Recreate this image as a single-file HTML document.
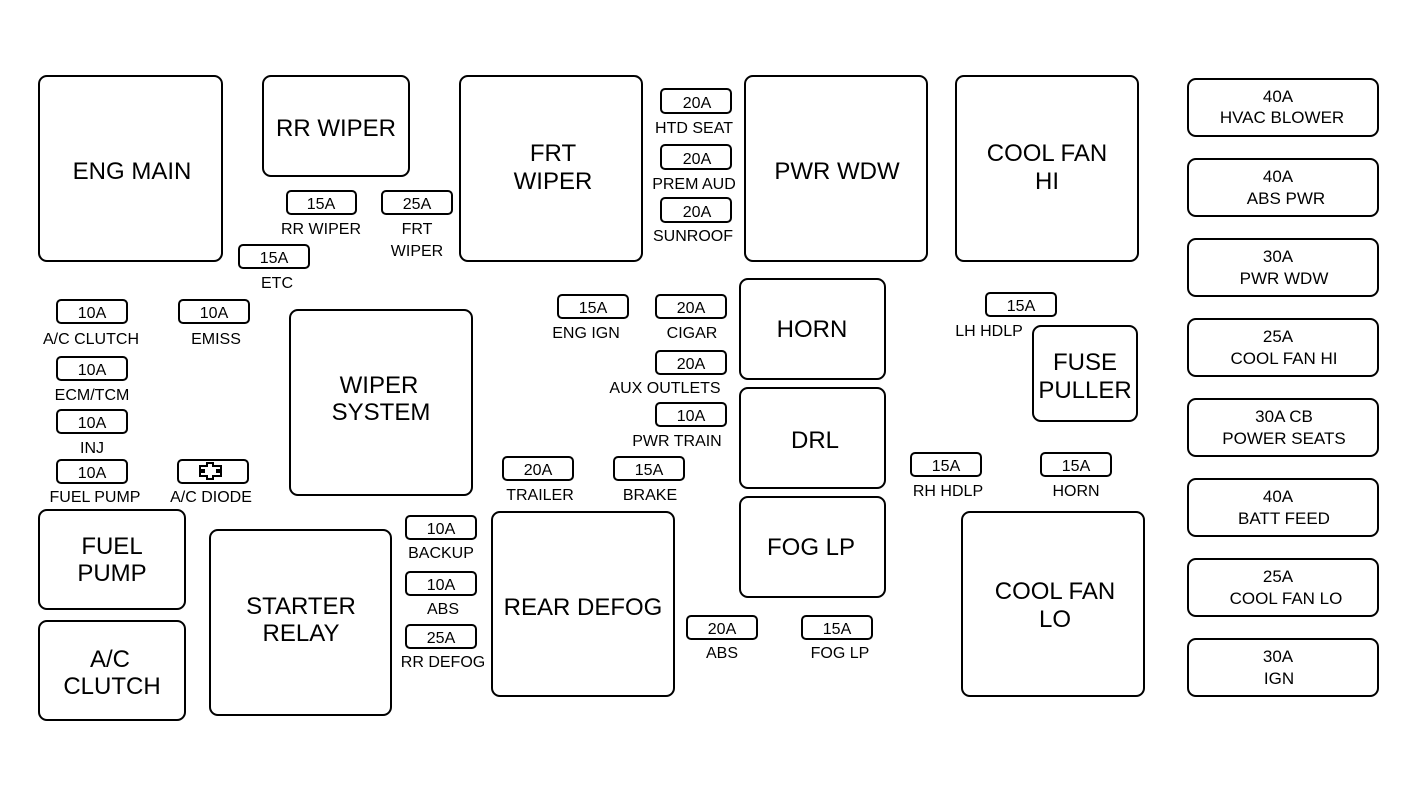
<!DOCTYPE html>
<html><head><meta charset="utf-8"><style>
html,body{margin:0;padding:0;background:#fff;}
svg text{font-family:"Liberation Sans",Arial,sans-serif;fill:#000;text-anchor:middle;}
.b{fill:none;stroke:#000;stroke-width:2;}
.t{font-size:24px;}
.f{font-size:16px;}
.r{font-size:17px;}
</style></head><body>
<svg width="1417" height="797" viewBox="0 0 1417 797" xmlns="http://www.w3.org/2000/svg">
<!-- big boxes -->
<rect class="b" x="39" y="76" width="183" height="185" rx="8"/><text class="t" x="132" y="179">ENG MAIN</text>
<rect class="b" x="263" y="76" width="146" height="100" rx="8"/><text class="t" x="336" y="136">RR WIPER</text>
<rect class="b" x="460" y="76" width="182" height="185" rx="8"/><text class="t" x="553" y="161">FRT</text><text class="t" x="553" y="189">WIPER</text>
<rect class="b" x="745" y="76" width="182" height="185" rx="8"/><text class="t" x="837" y="179">PWR WDW</text>
<rect class="b" x="956" y="76" width="182" height="185" rx="8"/><text class="t" x="1047" y="161">COOL FAN</text><text class="t" x="1047" y="189">HI</text>
<rect class="b" x="290" y="310" width="182" height="185" rx="8"/><text class="t" x="379" y="393">WIPER</text><text class="t" x="381" y="420">SYSTEM</text>
<rect class="b" x="740" y="279" width="145" height="100" rx="8"/><text class="t" x="812" y="337">HORN</text>
<rect class="b" x="1033" y="326" width="104" height="95" rx="8"/><text class="t" x="1085" y="370">FUSE</text><text class="t" x="1085" y="398">PULLER</text>
<rect class="b" x="740" y="388" width="145" height="100" rx="8"/><text class="t" x="815" y="448">DRL</text>
<rect class="b" x="740" y="497" width="145" height="100" rx="8"/><text class="t" x="811" y="555">FOG LP</text>
<rect class="b" x="39" y="510" width="146" height="99" rx="8"/><text class="t" x="112" y="554">FUEL</text><text class="t" x="112" y="581">PUMP</text>
<rect class="b" x="39" y="621" width="146" height="99" rx="8"/><text class="t" x="110" y="667">A/C</text><text class="t" x="112" y="694">CLUTCH</text>
<rect class="b" x="210" y="530" width="181" height="185" rx="8"/><text class="t" x="301" y="614">STARTER</text><text class="t" x="301" y="641">RELAY</text>
<rect class="b" x="492" y="512" width="182" height="184" rx="8"/><text class="t" x="583" y="615">REAR DEFOG</text>
<rect class="b" x="962" y="512" width="182" height="184" rx="8"/><text class="t" x="1055" y="599">COOL FAN</text><text class="t" x="1055" y="627">LO</text>
<!-- right column -->
<g class="r">
<rect class="b" x="1188" y="79" width="190" height="57" rx="8"/><text class="r" x="1278" y="102">40A</text><text class="r" x="1282" y="123">HVAC BLOWER</text>
<rect class="b" x="1188" y="159" width="190" height="57" rx="8"/><text class="r" x="1278" y="182">40A</text><text class="r" x="1286" y="204">ABS PWR</text>
<rect class="b" x="1188" y="239" width="190" height="57" rx="8"/><text class="r" x="1278" y="262">30A</text><text class="r" x="1284" y="284">PWR WDW</text>
<rect class="b" x="1188" y="319" width="190" height="57" rx="8"/><text class="r" x="1278" y="342">25A</text><text class="r" x="1284" y="364">COOL FAN HI</text>
<rect class="b" x="1188" y="399" width="190" height="57" rx="8"/><text class="r" x="1284" y="422">30A CB</text><text class="r" x="1284" y="444">POWER SEATS</text>
<rect class="b" x="1188" y="479" width="190" height="57" rx="8"/><text class="r" x="1278" y="502">40A</text><text class="r" x="1284" y="524">BATT FEED</text>
<rect class="b" x="1188" y="559" width="190" height="57" rx="8"/><text class="r" x="1278" y="582">25A</text><text class="r" x="1286" y="604">COOL FAN LO</text>
<rect class="b" x="1188" y="639" width="190" height="57" rx="8"/><text class="r" x="1278" y="662">30A</text><text class="r" x="1279" y="684">IGN</text>
</g>
<!-- small fuses -->
<g>
<rect class="b" x="57" y="300" width="70" height="23" rx="4"/><text class="f" x="92" y="318">10A</text><text class="f" x="91" y="344">A/C CLUTCH</text>
<rect class="b" x="179" y="300" width="70" height="23" rx="4"/><text class="f" x="214" y="318">10A</text><text class="f" x="216" y="344">EMISS</text>
<rect class="b" x="57" y="357" width="70" height="23" rx="4"/><text class="f" x="92" y="375">10A</text><text class="f" x="92" y="400">ECM/TCM</text>
<rect class="b" x="57" y="410" width="70" height="23" rx="4"/><text class="f" x="92" y="428">10A</text><text class="f" x="92" y="453">INJ</text>
<rect class="b" x="57" y="460" width="70" height="23" rx="4"/><text class="f" x="92" y="478">10A</text><text class="f" x="95" y="502">FUEL PUMP</text>
<rect class="b" x="178" y="460" width="70" height="23" rx="4"/><text class="f" x="211" y="502">A/C DIODE</text>
<path d="M200 466 h7 v-3 h6 v3 h8 v4 h-4 v2 h4 v4 h-8 v3 h-6 v-3 h-7 v-4 h4 v-2 h-4 z" fill="none" stroke="#000" stroke-width="2"/>
<rect class="b" x="287" y="191" width="69" height="23" rx="4"/><text class="f" x="321" y="209">15A</text><text class="f" x="321" y="234">RR WIPER</text>
<rect class="b" x="382" y="191" width="70" height="23" rx="4"/><text class="f" x="417" y="209">25A</text><text class="f" x="417" y="234">FRT</text><text class="f" x="417" y="256">WIPER</text>
<rect class="b" x="239" y="245" width="70" height="23" rx="4"/><text class="f" x="274" y="263">15A</text><text class="f" x="277" y="288">ETC</text>
<rect class="b" x="661" y="89" width="70" height="24" rx="4"/><text class="f" x="697" y="108">20A</text><text class="f" x="694" y="133">HTD SEAT</text>
<rect class="b" x="661" y="145" width="70" height="24" rx="4"/><text class="f" x="697" y="164">20A</text><text class="f" x="694" y="189">PREM AUD</text>
<rect class="b" x="661" y="198" width="70" height="24" rx="4"/><text class="f" x="697" y="217">20A</text><text class="f" x="693" y="241">SUNROOF</text>
<rect class="b" x="558" y="295" width="70" height="23" rx="4"/><text class="f" x="593" y="313">15A</text><text class="f" x="586" y="338">ENG IGN</text>
<rect class="b" x="656" y="295" width="70" height="23" rx="4"/><text class="f" x="691" y="313">20A</text><text class="f" x="692" y="338">CIGAR</text>
<rect class="b" x="656" y="351" width="70" height="23" rx="4"/><text class="f" x="691" y="369">20A</text><text class="f" x="665" y="393">AUX OUTLETS</text>
<rect class="b" x="656" y="403" width="70" height="23" rx="4"/><text class="f" x="691" y="421">10A</text><text class="f" x="677" y="446">PWR TRAIN</text>
<rect class="b" x="503" y="457" width="70" height="23" rx="4"/><text class="f" x="538" y="475">20A</text><text class="f" x="540" y="500">TRAILER</text>
<rect class="b" x="614" y="457" width="70" height="23" rx="4"/><text class="f" x="649" y="475">15A</text><text class="f" x="650" y="500">BRAKE</text>
<rect class="b" x="406" y="516" width="70" height="23" rx="4"/><text class="f" x="441" y="534">10A</text><text class="f" x="441" y="558">BACKUP</text>
<rect class="b" x="406" y="572" width="70" height="23" rx="4"/><text class="f" x="441" y="590">10A</text><text class="f" x="443" y="614">ABS</text>
<rect class="b" x="406" y="625" width="70" height="23" rx="4"/><text class="f" x="441" y="643">25A</text><text class="f" x="443" y="667">RR DEFOG</text>
<rect class="b" x="687" y="616" width="70" height="23" rx="4"/><text class="f" x="722" y="634">20A</text><text class="f" x="722" y="658">ABS</text>
<rect class="b" x="802" y="616" width="70" height="23" rx="4"/><text class="f" x="837" y="634">15A</text><text class="f" x="840" y="658">FOG LP</text>
<rect class="b" x="986" y="293" width="70" height="23" rx="4"/><text class="f" x="1021" y="311">15A</text><text class="f" x="989" y="336">LH HDLP</text>
<rect class="b" x="911" y="453" width="70" height="23" rx="4"/><text class="f" x="946" y="471">15A</text><text class="f" x="948" y="496">RH HDLP</text>
<rect class="b" x="1041" y="453" width="70" height="23" rx="4"/><text class="f" x="1076" y="471">15A</text><text class="f" x="1076" y="496">HORN</text>
</g>
</svg>
</body></html>
